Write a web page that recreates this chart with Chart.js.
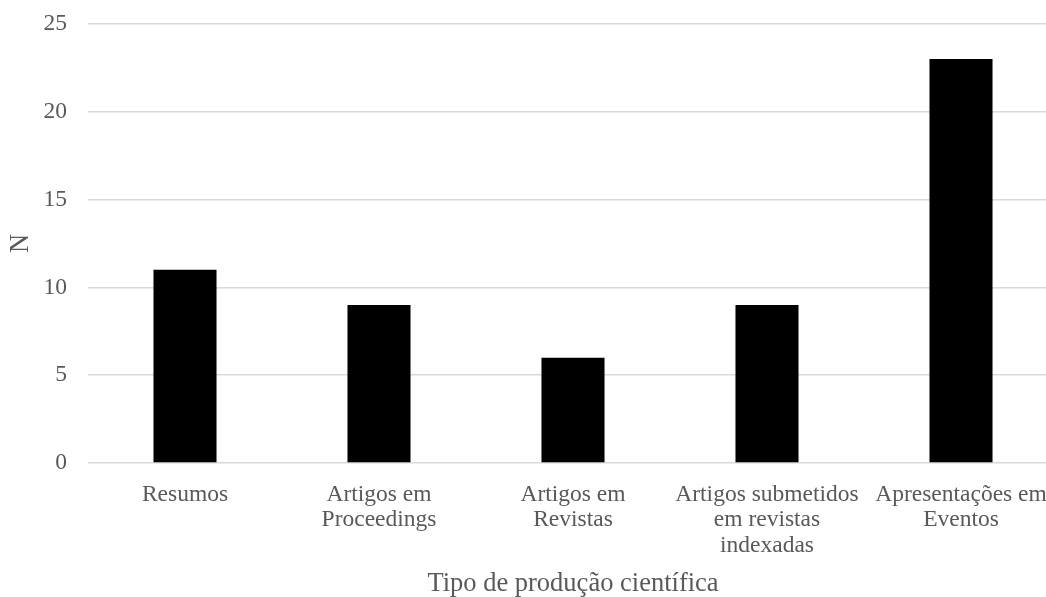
<!DOCTYPE html>
<html>
<head>
<meta charset="utf-8">
<script src="https://cdn.jsdelivr.net/npm/chart.js@4/dist/chart.umd.min.js"></script>
<style>
    html, body { margin: 0; padding: 0; background: #fff; overflow: hidden; }
    #wrap { width: 1070px; height: 597px; position: relative; }
</style>
</head>
<body>
<div id="wrap"><canvas id="prodChart"></canvas></div>
<script>
const categories = [
    'Resumos',
    ['Artigos em', 'Proceedings'],
    ['Artigos em', 'Revistas'],
    ['Artigos submetidos', 'em revistas', 'indexadas'],
    ['Apresentações em', 'Eventos']
];
const counts = [11, 9, 6, 9, 23];
const yTicks = [0, 5, 10, 15, 20, 25];

const serif = '"Liberation Serif", "Times New Roman", serif';
const textColor = '#595959';
const gridColor = '#d9d9d9';

let context = document.getElementById('prodChart');
let chart = new Chart(context, {
    type: 'bar',
    data: {
        labels: categories,
        datasets: [{
            data: counts,
            backgroundColor: '#000000',
            borderWidth: 0,
            barPercentage: 1,
            categoryPercentage: 0.325
        }]
    },
    options: {
        responsive: true,
        maintainAspectRatio: false,
        animation: false,
        layout: { padding: { top: 24, right: 12, left: 0, bottom: 0 } },
        plugins: {
            legend: { display: false },
            tooltip: { enabled: false }
        },
        scales: {
            x: {
                grid: { display: false },
                border: { display: false },
                ticks: {
                    color: textColor,
                    font: { family: serif, size: 23.5, lineHeight: 1.08 },
                    padding: 11,
                    maxRotation: 0,
                    autoSkip: false
                },
                title: {
                    display: true,
                    text: 'Tipo de produção científica',
                    color: textColor,
                    font: { family: serif, size: 26.5, lineHeight: 1 },
                    padding: { top: 4, bottom: 0 }
                },
                afterFit: (scale) => { scale.height = 134; scale.paddingLeft = 0; scale.paddingRight = 0; }
            },
            y: {
                min: 0,
                max: 25,
                afterBuildTicks: (scale) => { scale.ticks = yTicks.map(v => ({ value: v })); },
                grid: { color: gridColor, lineWidth: 1.5, drawTicks: false },
                border: { display: false },
                ticks: {
                    color: textColor,
                    font: { family: serif, size: 23.5 },
                    padding: 21
                },
                title: {
                    display: true,
                    text: 'N',
                    color: textColor,
                    font: { family: serif, size: 26.5, lineHeight: 1 },
                    padding: { top: 8, bottom: 0 }
                },
                afterFit: (scale) => { scale.width = 88; scale.paddingTop = 0; scale.paddingBottom = 0; }
            }
        }
    }
});
</script>
</body>
</html>
